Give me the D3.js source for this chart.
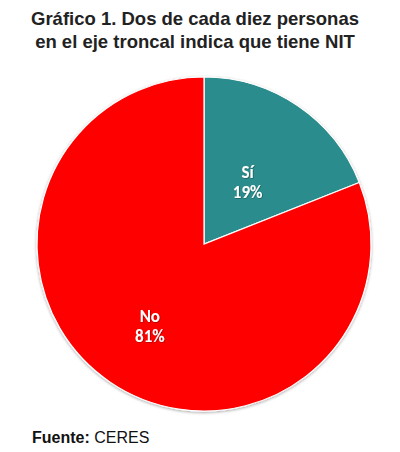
<!DOCTYPE html>
<html><head><meta charset="utf-8">
<script src="https://cdn.jsdelivr.net/npm/d3@7"></script>
<style>body{margin:0;background:#fff}</style>
</head><body>
<script>
const categories = ["Sí", "No"];
const values = [19, 81];
const labels = ["19%", "81%"];
const colors = ["#2a8c8c", "#ff0000"];
const titleLines = ["Gráfico 1. Dos de cada diez personas", "en el eje troncal indica que tiene NIT"];

const W = 400, H = 452;
const svg = d3.select("body").append("svg").attr("width", W).attr("height", H);
const defs = svg.append("defs");
const f = defs.append("filter").attr("id","sh").attr("x","-10%").attr("y","-10%").attr("width","120%").attr("height","120%");
f.append("feDropShadow").attr("dx",0).attr("dy",1).attr("stdDeviation",1.5).attr("flood-color","#000").attr("flood-opacity",0.35);
const tf = defs.append("filter").attr("id","tsh");
tf.append("feDropShadow").attr("dx",0.5).attr("dy",0.5).attr("stdDeviation",0.6).attr("flood-color","#000").attr("flood-opacity",0.5);

svg.append("g").selectAll("text").data(titleLines).join("text")
  .attr("x", 195).attr("y", (d,i)=>25+i*23)
  .attr("text-anchor","middle")
  .attr("font-family","Liberation Sans, Arial, sans-serif")
  .attr("font-size",18.5).attr("font-weight","bold").attr("fill","#222")
  .text(d=>d);

const cx = 204, cy = 244, r = 167;
const data = categories.map((c,i)=>({c, v:values[i], l:labels[i], col:colors[i]}));
const pie = d3.pie().value(d=>d.v).sort(null);
const arcs = pie(data);
const arc = d3.arc().innerRadius(0).outerRadius(r);
const g = svg.append("g").attr("transform",`translate(${cx},${cy})`);
g.append("g").attr("filter","url(#sh)").selectAll("path").data(arcs).join("path")
  .attr("d", arc).attr("fill", d=>d.data.col)
  .attr("stroke","#fff").attr("stroke-width",1.2);

const labelRadius = [0.465, 0.577];
const lg = g.append("g").attr("filter","url(#tsh)");
arcs.forEach((a,i)=>{
  const lr = r*labelRadius[i];
  const [x,y] = d3.arc().innerRadius(lr).outerRadius(lr).centroid(a);
  const t = lg.append("text").attr("text-anchor","middle")
    .attr("font-family","Carlito, Calibri, Lato, sans-serif").attr("font-weight","bold")
    .attr("font-size",17).attr("fill","#fff");
  t.append("tspan").attr("x",x).attr("y",y-2).text(a.data.c);
  t.append("tspan").attr("x",x).attr("y",y+18).text(a.data.l);
});

const ft = svg.append("text").attr("x",32).attr("y",443)
  .attr("font-family","Liberation Sans, Arial, sans-serif").attr("font-size",16).attr("fill","#111");
ft.append("tspan").attr("font-weight","bold").text("Fuente: ");
ft.append("tspan").text("CERES");
</script>
</body></html>
